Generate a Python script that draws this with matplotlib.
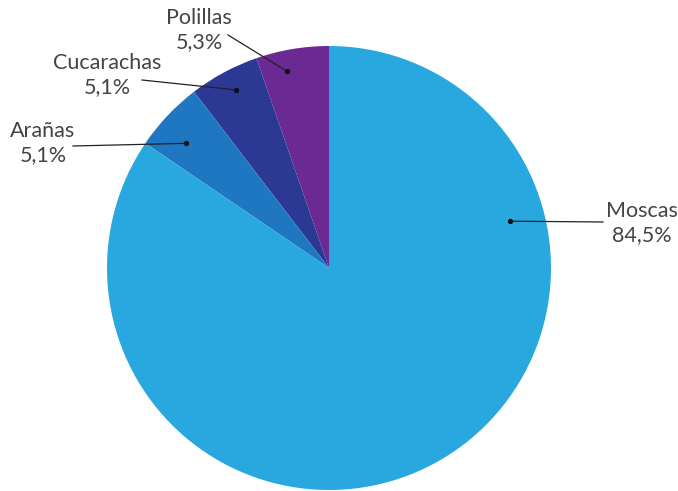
import matplotlib.pyplot as plt
import numpy as np

plt.rcParams['font.family'] = ['Lato', 'DejaVu Sans']

# datos (orden antihorario desde arriba)
labels = ['Polillas', 'Cucarachas', 'Arañas', 'Moscas']
values = [5.3, 5.1, 5.1, 84.5]
value_text = ['5,3%', '5,1%', '5,1%', '84,5%']
colors = ['#6b2a93', '#2b3894', '#1f77c2', '#29a8e0']

# posición del punto (ángulo en grados, radio en px) y del texto (px, y hacia arriba)
dot_pos = [(102, 201), (117.6, 201), (139, 190), (14.5, 187)]
text_pos = [(199, 461), (107, 416), (43, 348), (642, 268)]
line_start = [(228, 456), (142, 411), (73, 345), (603, 269)]

fig = plt.figure(figsize=(6.78, 4.91), dpi=100)
ax = fig.add_axes([0, 0, 1, 1])

cx, cy, r = 329, 223, 222
ax.pie(values, colors=colors, startangle=90, counterclock=True,
       center=(cx, cy), radius=r, frame=True,
       wedgeprops=dict(linewidth=0))
ax.set_xlim(0, 678)
ax.set_ylim(0, 491)
ax.axis('off')

for i in range(len(labels)):
    ang, rr = dot_pos[i]
    dx = cx + rr * np.cos(np.radians(ang))
    dy = cy + rr * np.sin(np.radians(ang))
    ax.plot([line_start[i][0], dx], [line_start[i][1], dy], color='#222222', lw=0.9)
    ax.plot(dx, dy, 'o', color='#111111', ms=2.8)
    tx, ty = text_pos[i]
    ax.text(tx, ty, labels[i] + '\n' + value_text[i], ha='center', va='center',
            fontsize=15.5, color='#444444', fontweight='normal', linespacing=1.3)

fig.savefig('out.png', dpi=100)
